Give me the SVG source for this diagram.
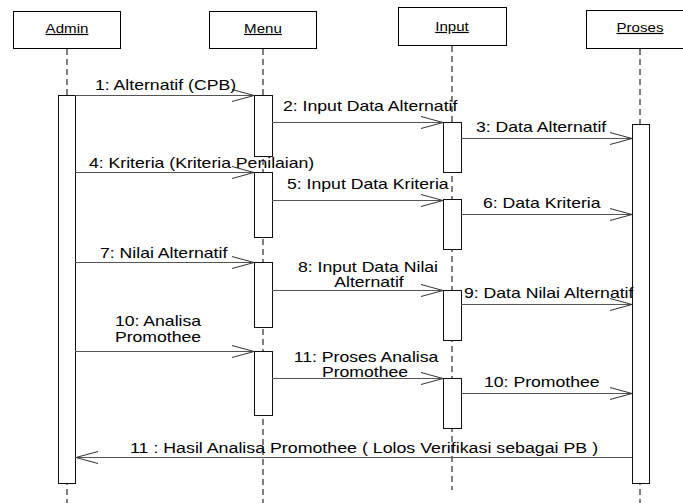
<svg xmlns="http://www.w3.org/2000/svg" width="683" height="503" viewBox="0 0 683 503">
  <style>
    .box { fill: #ffffff; stroke: #000000; stroke-width: 1; }
    .act { fill: #ffffff; stroke: #111111; stroke-width: 1; }
    .life { stroke: #000000; stroke-width: 1; stroke-dasharray: 6 4; fill: none; }
    .msg { stroke: #555555; stroke-width: 1.2; fill: none; }
    .head { stroke: #333333; stroke-width: 1; fill: none; }
    text { font-family: "Liberation Sans", Arial, sans-serif; fill: #000000; }
    .title { font-size: 12px; text-anchor: middle; text-decoration: underline; }
    .lbl { font-size: 14px; }
    .mid { text-anchor: middle; }
  </style>

  <!-- lifelines and activation bars -->
  <g id="admin">
    <rect class="box" x="13.5" y="11.5" width="107" height="37"/>
    <text class="title" transform="translate(67,33) scale(1.26,1)">Admin</text>
    <line class="life" x1="67" y1="49" x2="67" y2="503"/>
    <rect class="act" x="58.5" y="95.5" width="17" height="388"/>
  </g>

  <g id="menu">
    <rect class="box" x="209.5" y="11.5" width="107" height="37"/>
    <text class="title" transform="translate(263,33) scale(1.26,1)">Menu</text>
    <line class="life" x1="263" y1="49" x2="263" y2="503"/>
    <rect class="act" x="254.5" y="95.5" width="18" height="61"/>
    <rect class="act" x="254.5" y="172.5" width="18" height="65"/>
    <rect class="act" x="254.5" y="262.5" width="18" height="65"/>
    <rect class="act" x="254.5" y="351.5" width="18" height="64"/>
  </g>

  <g id="input">
    <rect class="box" x="398.5" y="7.5" width="108" height="38"/>
    <text class="title" transform="translate(452,31) scale(1.26,1)">Input</text>
    <line class="life" x1="452" y1="46" x2="452" y2="490"/>
    <rect class="act" x="443.5" y="122.5" width="18" height="50"/>
    <rect class="act" x="443.5" y="199.5" width="18" height="50"/>
    <rect class="act" x="443.5" y="290.5" width="18" height="50"/>
    <rect class="act" x="443.5" y="378.5" width="18" height="50"/>
  </g>

  <g id="proses">
    <rect class="box" x="586.5" y="10.5" width="100" height="38"/>
    <text class="title" transform="translate(640,32) scale(1.26,1)">Proses</text>
    <line class="life" x1="640" y1="49" x2="640" y2="503"/>
    <rect class="act" x="632.5" y="124.5" width="17" height="359"/>
  </g>

  <!-- messages -->
  <g id="connectors">
    <line class="msg" x1="75" y1="95.5" x2="254" y2="95.5"/>
    <path class="head" d="M232,89.5 L254,95.5 L232,101.5"/>

    <line class="msg" x1="272" y1="122.5" x2="443" y2="122.5"/>
    <path class="head" d="M421,116.5 L443,122.5 L421,128.5"/>

    <line class="msg" x1="461" y1="138.5" x2="632" y2="138.5"/>
    <path class="head" d="M610,132.5 L632,138.5 L610,144.5"/>

    <line class="msg" x1="75" y1="172.5" x2="254" y2="172.5"/>
    <path class="head" d="M232,166.5 L254,172.5 L232,178.5"/>

    <line class="msg" x1="272" y1="200.5" x2="443" y2="200.5"/>
    <path class="head" d="M421,194.5 L443,200.5 L421,206.5"/>

    <line class="msg" x1="461" y1="214.5" x2="632" y2="214.5"/>
    <path class="head" d="M610,208.5 L632,214.5 L610,220.5"/>

    <line class="msg" x1="75" y1="262.5" x2="254" y2="262.5"/>
    <path class="head" d="M232,256.5 L254,262.5 L232,268.5"/>

    <line class="msg" x1="272" y1="290.5" x2="443" y2="290.5"/>
    <path class="head" d="M421,284.5 L443,290.5 L421,296.5"/>

    <line class="msg" x1="461" y1="304.5" x2="632" y2="304.5"/>
    <path class="head" d="M610,298.5 L632,304.5 L610,310.5"/>

    <line class="msg" x1="75" y1="351.5" x2="254" y2="351.5"/>
    <path class="head" d="M232,345.5 L254,351.5 L232,357.5"/>

    <line class="msg" x1="272" y1="378.5" x2="443" y2="378.5"/>
    <path class="head" d="M421,372.5 L443,378.5 L421,384.5"/>

    <line class="msg" x1="461" y1="393.5" x2="632" y2="393.5"/>
    <path class="head" d="M610,387.5 L632,393.5 L610,399.5"/>

    <line class="msg" x1="632" y1="457.5" x2="75" y2="457.5"/>
    <path class="head" d="M98,451.5 L76,457.5 L98,463.5"/>
  </g>

  <!-- message labels -->
  <g id="labels">
    <text class="lbl" transform="translate(95,90) scale(1.26,1)">1: Alternatif (CPB)</text>
    <text class="lbl" transform="translate(283,111) scale(1.26,1)">2: Input Data Alternatif</text>
    <text class="lbl" transform="translate(476,132) scale(1.26,1)">3: Data Alternatif</text>
    <text class="lbl" transform="translate(89,168) scale(1.26,1)">4: Kriteria (Kriteria Penilaian)</text>
    <text class="lbl" transform="translate(287,189) scale(1.26,1)">5: Input Data Kriteria</text>
    <text class="lbl" transform="translate(483,208) scale(1.26,1)">6: Data Kriteria</text>
    <text class="lbl" transform="translate(100,258) scale(1.26,1)">7: Nilai Alternatif</text>
    <text class="lbl mid" transform="translate(368,272) scale(1.26,1)">8: Input Data Nilai</text>
    <text class="lbl mid" transform="translate(369,287) scale(1.26,1)">Alternatif</text>
    <text class="lbl" transform="translate(464,298) scale(1.26,1)">9: Data Nilai Alternatif</text>
    <text class="lbl mid" transform="translate(158,326) scale(1.26,1)">10: Analisa</text>
    <text class="lbl mid" transform="translate(158,342) scale(1.26,1)">Promothee</text>
    <text class="lbl mid" transform="translate(366,362) scale(1.26,1)">11: Proses Analisa</text>
    <text class="lbl mid" transform="translate(365,377) scale(1.26,1)">Promothee</text>
    <text class="lbl" transform="translate(484,387) scale(1.26,1)">10: Promothee</text>
    <text class="lbl" transform="translate(130,453) scale(1.27,1)">11 : Hasil Analisa Promothee ( Lolos Verifikasi sebagai PB )</text>
  </g>
</svg>
